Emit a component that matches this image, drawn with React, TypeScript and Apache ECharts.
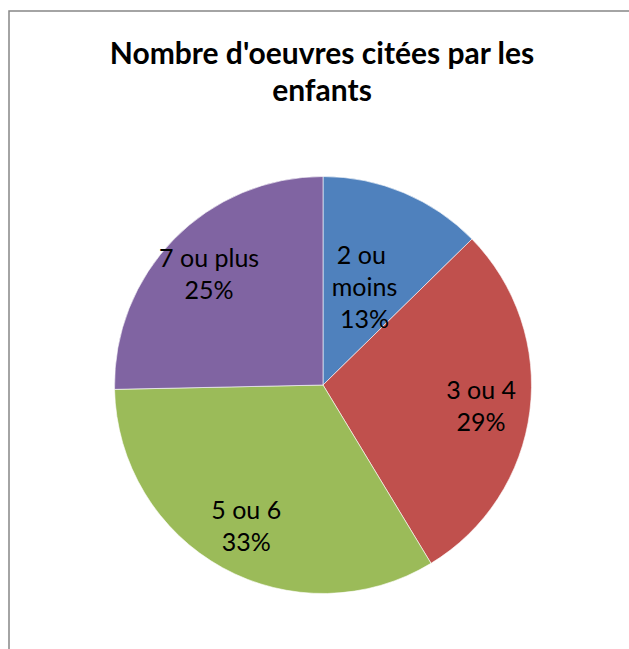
import React, { useEffect, useRef } from "react";
import * as echarts from "echarts";

const titleText = "Nombre d'oeuvres citées par les\nenfants";
const categories = ["2 ou moins", "3 ou 4", "5 ou 6", "7 ou plus"];
const values = [19, 43, 50, 38];
const colors = ["#4F81BD", "#C0504D", "#9BBB59", "#8064A2"];

export default function App() {
  const ref = useRef<HTMLDivElement>(null);
  useEffect(() => {
    if (!ref.current) return;
    const chart = echarts.init(ref.current, undefined, { renderer: "svg" });
    const font = "Lato, 'Liberation Sans', sans-serif";
    const R = 208.5;
    const labelBase = {
      color: "#000",
      fontSize: 25,
      fontFamily: font,
      lineHeight: 32,
      align: "center",
      formatter: "{b}\n{d}%",
    };
    const mainData = categories.map((c, i) => ({
      name: c,
      value: values[i],
      itemStyle: { color: colors[i] },
      label:
        i === 0
          ? { show: true, width: 80, overflow: "break" }
          : { show: false },
    }));
    const overlayData = categories.map((c, i) => ({
      name: c,
      value: values[i],
      label: { show: i !== 0 },
    }));
    chart.setOption({
      animation: false,
      backgroundColor: "#fff",
      title: {
        text: titleText,
        left: 317,
        top: 28,
        textAlign: "center",
        textStyle: {
          fontFamily: font,
          fontWeight: "bold",
          fontSize: 30,
          lineHeight: 37,
          color: "#000",
        },
      },
      graphic: [
        {
          type: "rect",
          shape: { x: 9, y: 11, width: 800, height: 800 },
          style: { fill: "none", stroke: "#868686", lineWidth: 1.5 },
          silent: true,
        },
      ],
      series: [
        {
          type: "pie",
          center: [323, 385],
          radius: [0, R],
          startAngle: 90,
          clockwise: true,
          percentPrecision: 0,
          itemStyle: { borderColor: "#ffffff", borderWidth: 0.6 },
          label: { ...labelBase, position: "inside" },
          labelLine: { show: false },
          emphasis: { disabled: true },
          data: mainData,
        },
        {
          type: "pie",
          center: [323, 385],
          radius: [R * 0.5, R],
          startAngle: 90,
          clockwise: true,
          percentPrecision: 0,
          silent: true,
          itemStyle: { color: "rgba(0,0,0,0)", borderWidth: 0 },
          label: { ...labelBase, position: "inside" },
          labelLine: { show: false },
          emphasis: { disabled: true },
          data: overlayData,
        },
      ],
    });
    return () => chart.dispose();
  }, []);
  return (
    <div
      ref={ref}
      style={{ position: "fixed", left: 0, top: 0, width: 629, height: 649 }}
    />
  );
}
